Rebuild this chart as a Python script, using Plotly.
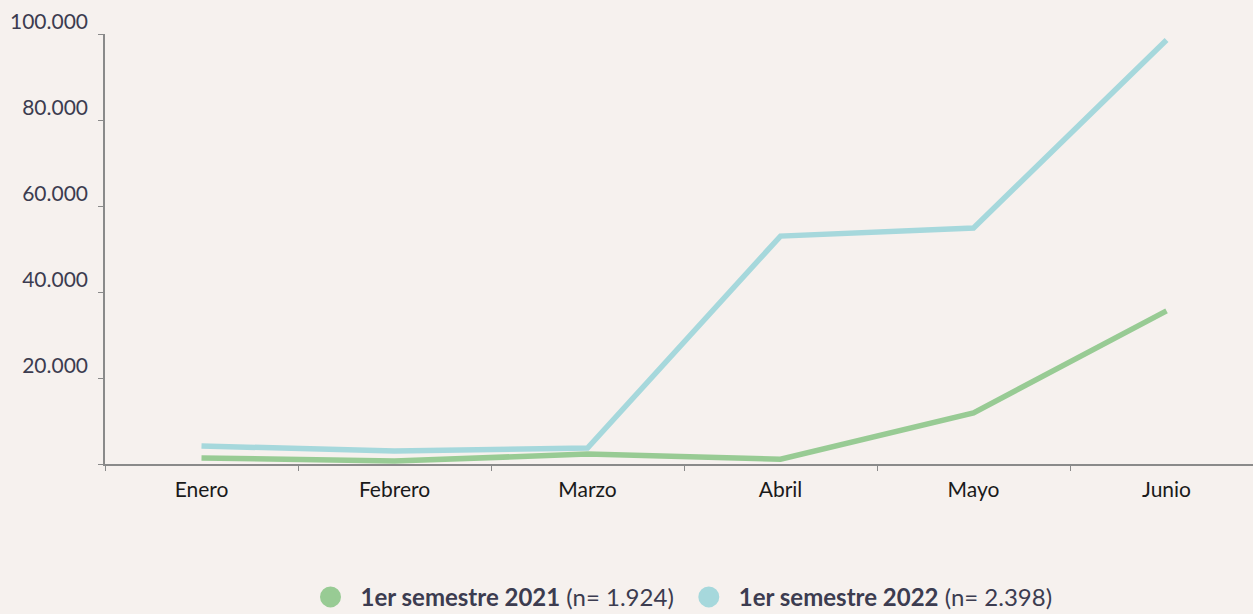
import plotly.graph_objects as go

months = ["Enero", "Febrero", "Marzo", "Abril", "Mayo", "Junio"]
s2021 = [1400, 700, 2300, 1100, 11900, 35600]
s2022 = [4200, 3000, 3700, 53000, 54900, 98600]
name2021 = "<b>1er semestre 2021</b> (n= 1.924)"
name2022 = "<b>1er semestre 2022</b> (n= 2.398)"
ytickvals = [0, 20000, 40000, 60000, 80000, 100000]
yticktext = ["", "20.000", "40.000", "60.000", "80.000", "100.000"]

green = "#98cb94"
blue = "#a6d8dc"

fig = go.Figure()
fig.add_trace(go.Scatter(x=months, y=s2021, mode="lines", line=dict(color=green, width=5.5),
                         showlegend=False, hoverinfo="skip"))
fig.add_trace(go.Scatter(x=months, y=s2022, mode="lines", line=dict(color=blue, width=5.5),
                         showlegend=False, hoverinfo="skip"))
fig.add_trace(go.Scatter(x=[None], y=[None], mode="markers", name=name2021,
                         marker=dict(color=green, size=16, symbol="circle",
                                     line=dict(color=green, width=5))))
fig.add_trace(go.Scatter(x=[None], y=[None], mode="markers", name=name2022,
                         marker=dict(color=blue, size=16, symbol="circle",
                                     line=dict(color=blue, width=5))))

fig.update_layout(
    width=1253, height=614,
    paper_bgcolor="#f6f1ee", plot_bgcolor="#f6f1ee",
    margin=dict(l=105, r=0, t=34, b=150, autoexpand=False),
    font=dict(family="Lato", color="#3c3c50", size=18),
    legend=dict(orientation="h", x=0.5, xanchor="center", y=-0.31, yanchor="middle",
                font=dict(size=24, color="#3c3c50"), itemsizing="trace",
                bgcolor="rgba(0,0,0,0)", itemwidth=50, tracegroupgap=0),
    xaxis=dict(type="category", range=[-0.5, 5.448], showgrid=False, zeroline=False,
               showline=True, linecolor="#8a8a8a", linewidth=1.5,
               ticks="outside", tickson="boundaries", ticklen=5, tickcolor="#8a8a8a",
               tickfont=dict(size=21, color="#1a1a1a"), ticklabelstandoff=6,
               fixedrange=True),
    yaxis=dict(range=[0, 100000], showgrid=False, zeroline=False,
               showline=True, linecolor="#8a8a8a", linewidth=1.5,
               tickmode="array", tickvals=ytickvals, ticktext=yticktext,
               ticks="outside", ticklen=5, tickcolor="#8a8a8a",
               tickfont=dict(size=21, color="#3c3c50"), ticklabelshift=-12,
               ticklabelstandoff=6, fixedrange=True),
)

fig.write_html("out.html", config={"displayModeBar": False},
               post_script="document.body.style.margin='0';")
